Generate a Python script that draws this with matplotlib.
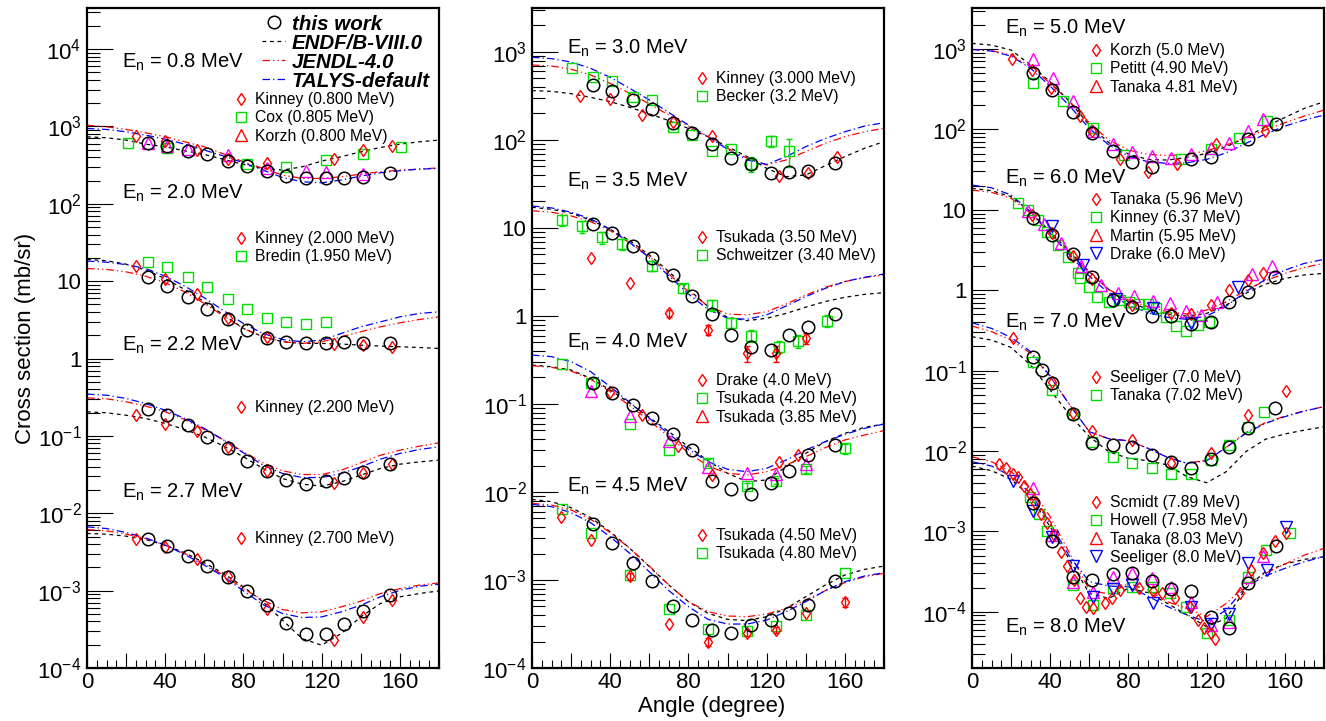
import numpy as np
import matplotlib
matplotlib.use('Agg')
import matplotlib.pyplot as plt
from matplotlib.lines import Line2D
from matplotlib.legend import Legend
from matplotlib.ticker import FixedLocator, MultipleLocator, FuncFormatter, NullFormatter

plt.rcParams['font.family'] = ['Liberation Sans', 'DejaVu Sans']
plt.rcParams['mathtext.fontset'] = 'custom'
plt.rcParams['mathtext.rm'] = 'Liberation Sans'
plt.rcParams['mathtext.it'] = 'Liberation Sans:italic'
plt.rcParams['mathtext.bf'] = 'Liberation Sans:bold'

W, H = 1326, 721

# ---------------- data ----------------
# angles of the evaluated curves
TH_ANG = [0, 10, 20, 30, 40, 50, 60, 70, 80, 90, 100, 110, 120, 130, 140, 150, 160, 170, 180]
# angles of "this work" points
TW_ANG = [31, 41, 51.5, 61.5, 72, 82, 92, 102, 112, 122, 131.5, 141, 155]

# 0.8 MeV
tw_08 = [604, 562, 484, 435, 356, 310, 267, 230, 217, 213, 213, 223, 247]
endf_08 = [736, 714, 667, 591, 546, 485, 435, 375, 323, 287, 273, 301, 357, 406, 471, 535, 591, 634, 667]
jendl_08 = [1040, 990, 915, 829, 736, 634, 546, 439, 350, 287, 235, 213, 213, 224, 242, 260, 273, 281, 292]
talys_08 = [943, 915, 854, 773, 686, 591, 495, 414, 339, 273, 219, 193, 187, 203, 228, 252, 268, 281, 287]
kinney_08_ang = [25, 40, 56.5, 72, 92, 126.5, 141, 156]
kinney_08 = [750, 647, 494, 375, 333, 378, 494, 557]
cox_08_ang = [21, 41, 82, 102, 122, 141, 160.5]
cox_08 = [604, 520, 323, 301, 367, 440, 536]
korzh_08_ang = [31, 41, 51.5, 72, 92, 112, 122, 141]
korzh_08 = [604, 562, 505, 423, 287, 265, 259, 242]

# 2.0 MeV
tw_20 = [11.2, 8.7, 6.29, 4.31, 3.23, 2.33, 1.87, 1.65, 1.57, 1.60, 1.65, 1.57, 1.61]
endf_20 = [19.1, 18.4, 16.6, 13.9, 10.8, 7.81, 5.42, 3.64, 2.45, 1.91, 1.65, 1.57, 1.57, 1.54, 1.49, 1.45, 1.42, 1.39, 1.35]
jendl_20 = [14.6, 14.2, 13.2, 11.6, 9.53, 7.29, 5.15, 3.53, 2.45, 1.91, 1.65, 1.57, 1.65, 1.91, 2.22, 2.57, 2.90, 3.20, 3.46]
talys_20 = [18.2, 17.6, 16.4, 14.6, 11.6, 8.63, 6.10, 4.14, 2.84, 2.11, 1.76, 1.65, 1.73, 2.11, 2.57, 2.98, 3.46, 3.83, 4.02]
kinney_20_ang = [25, 40, 56.5, 72, 92, 126.5, 141, 156]
kinney_20 = [15.8, 10.8, 6.74, 3.30, 1.91, 1.52, 1.49, 1.39]
bredin_20_ang = [31, 41, 51.5, 61.5, 72, 82, 92, 102, 112, 122]
bredin_20 = [17.8, 15.1, 11.4, 8.29, 5.86, 4.31, 3.30, 2.93, 2.78, 2.98]

# 2.2 MeV
tw_22 = [0.226, 0.185, 0.138, 0.0973, 0.0702, 0.0472, 0.0350, 0.0268, 0.0238, 0.0260, 0.0290, 0.0343, 0.0431]
endf_22 = [0.205, 0.199, 0.185, 0.168, 0.145, 0.121, 0.0973, 0.0737, 0.0537, 0.0379, 0.0281, 0.0238, 0.0224, 0.0255, 0.0311, 0.0379, 0.0431, 0.0462, 0.0486]
jendl_22 = [0.310, 0.302, 0.276, 0.243, 0.205, 0.163, 0.121, 0.0881, 0.0622, 0.0449, 0.0354, 0.0317, 0.0317, 0.0361, 0.0449, 0.0563, 0.0654, 0.0737, 0.0814]
talys_22 = [0.347, 0.336, 0.305, 0.262, 0.215, 0.168, 0.125, 0.0881, 0.0604, 0.0419, 0.0327, 0.0290, 0.0290, 0.0327, 0.0398, 0.0501, 0.0593, 0.0668, 0.0723]
kinney_22_ang = [25, 40, 56.5, 72, 92, 126.5, 141, 156]
kinney_22 = [0.185, 0.141, 0.115, 0.0723, 0.0350, 0.0248, 0.0327, 0.0440]

# 2.7 MeV
tw_27 = [0.00462, 0.00379, 0.00282, 0.00207, 0.00148, 0.000993, 0.000648, 0.000383, 0.000279, 0.000274, 0.000376, 0.000548, 0.000873]
endf_27 = [0.00548, 0.00537, 0.00506, 0.00458, 0.00387, 0.00308, 0.00229, 0.00166, 0.00112, 0.000716, 0.000415, 0.000240, 0.000197, 0.000279, 0.000458, 0.000681, 0.000832, 0.000918, 0.000993]
jendl_27 = [0.00616, 0.00593, 0.00537, 0.00472, 0.00387, 0.00302, 0.00220, 0.00158, 0.00106, 0.000753, 0.000570, 0.000516, 0.000532, 0.000617, 0.000731, 0.000918, 0.00106, 0.00118, 0.00126]
talys_27 = [0.00668, 0.00635, 0.00564, 0.00481, 0.00387, 0.00293, 0.00213, 0.00151, 0.000993, 0.000661, 0.000506, 0.000449, 0.000458, 0.000532, 0.000648, 0.000832, 0.00101, 0.00114, 0.00121]
kinney_27_ang = [25, 40, 56.5, 72, 92, 126.5, 141, 156]
kinney_27 = [0.00472, 0.00368, 0.00260, 0.00154, 0.000587, 0.000229, 0.000458, 0.000753]

# 3.0 MeV
tw_30 = [422, 364, 285, 225, 157, 121, 89.3, 63.0, 52.9, 42.5, 42.9, 44.4, 54.3]
endf_30 = [364, 357, 336, 305, 273, 235, 198, 166, 135, 109, 84, 64.7, 47.6, 38.3, 40.0, 51.1, 64.7, 80.4, 95.8]
jendl_30 = [711, 693, 636, 548, 440, 339, 257, 192, 144, 109, 80.4, 62, 52, 59.3, 73.8, 91.6, 109, 124, 136]
talys_30 = [869, 840, 769, 652, 515, 386, 285, 205, 148, 109, 78.4, 59.3, 52.9, 64.7, 84, 104, 124, 144, 157]
kinney_30_ang = [24.5, 40, 56.5, 72, 92, 126.5, 141, 156]
kinney_30 = [319, 292, 192, 162, 111, 39.4, 42.5, 64.7]
becker_30_ang = [20.5, 31, 41, 51.5, 61.5, 72, 82, 92, 102, 112, 122, 131.5]
becker_30 = [664, 515, 472, 311, 285, 139, 114, 75.7, 79.1, 53.4, 97.5, 75.7]
becker_30_err = [0, 0, 0, 0, 0, 0, 0, 0, 0, 10, 14, 27]

# 3.5 MeV
tw_35 = [11.0, 8.69, 6.30, 4.52, 2.92, 1.70, 1.05, 0.608, 0.449, 0.411, 0.608, 0.757, 1.05]
endf_35 = [17.2, 16.3, 14.7, 12.3, 9.66, 7.18, 4.93, 3.19, 2.01, 1.28, 0.966, 0.885, 0.942, 1.07, 1.26, 1.46, 1.63, 1.76, 1.84]
jendl_35 = [15.7, 15.1, 13.7, 11.8, 9.33, 6.81, 4.72, 3.00, 1.89, 1.30, 1.05, 1.03, 1.12, 1.37, 1.73, 2.12, 2.46, 2.73, 2.92]
talys_35 = [17.8, 16.9, 15.1, 12.7, 9.66, 6.81, 4.60, 2.85, 1.78, 1.19, 0.942, 0.917, 1.03, 1.30, 1.66, 2.06, 2.46, 2.75, 3.00]
tsukada_35_ang = [30, 50, 70, 90, 110, 125, 140]
tsukada_35 = [4.60, 2.35, 1.07, 0.693, 0.377, 0.377, 0.557]
tsukada_35_err = [0, 0, 0.1, 0.09, 0.08, 0.08, 0.08]
schweitzer_35_ang = [15.5, 25.5, 36, 46, 61.5, 77, 92, 102, 112, 126.5, 136, 151]
schweitzer_35 = [12.3, 10.4, 7.83, 6.58, 3.73, 2.06, 1.33, 0.840, 0.598, 0.449, 0.525, 0.885]
schweitzer_35_err = [1.8, 1.6, 1.2, 1.0, 0.5, 0.25, 0.2, 0.11, 0.09, 0.07, 0.09, 0.14]

# 4.0 MeV
tw_40 = [0.172, 0.132, 0.0973, 0.0687, 0.0456, 0.0300, 0.0135, 0.0108, 0.00948, 0.0125, 0.0173, 0.0263, 0.0342]
endf_40 = [0.277, 0.265, 0.243, 0.196, 0.144, 0.102, 0.0705, 0.0485, 0.0327, 0.0227, 0.0163, 0.0131, 0.0137, 0.0194, 0.0275, 0.0373, 0.0464, 0.0543, 0.0592]
jendl_40 = [0.272, 0.261, 0.237, 0.191, 0.138, 0.0957, 0.0646, 0.0425, 0.0280, 0.0197, 0.0163, 0.0156, 0.0170, 0.0203, 0.0252, 0.0319, 0.0390, 0.0444, 0.0498]
talys_40 = [0.360, 0.345, 0.303, 0.233, 0.157, 0.104, 0.0687, 0.0456, 0.0305, 0.0221, 0.0181, 0.0170, 0.0186, 0.0231, 0.0300, 0.0373, 0.0452, 0.0528, 0.0592]
drake_40_ang = [40, 56.5, 74.5, 92, 126.5, 136]
drake_40 = [0.138, 0.0750, 0.0336, 0.0156, 0.0217, 0.0263]
tsukada_40a_ang = [15.5, 30, 50, 70, 90, 110, 125, 140, 160]
tsukada_40a = [0.284, 0.175, 0.0587, 0.0300, 0.0215, 0.0117, 0.0133, 0.0181, 0.0313]
tsukada_40a_err = [0, 0, 0, 0, 0.002, 0.001, 0.001, 0.0015, 0.004]
tsukada_40b_ang = [30, 50, 70, 90, 110, 125, 140]
tsukada_40b = [0.142, 0.0736, 0.0383, 0.0194, 0.0166, 0.0160, 0.0206]

# 4.5 MeV
tw_45 = [0.00429, 0.00261, 0.00157, 0.000974, 0.000511, 0.000351, 0.000270, 0.000248, 0.000308, 0.000351, 0.000425, 0.000520, 0.000982]
endf_45 = [0.00824, 0.00776, 0.00663, 0.00511, 0.00354, 0.00229, 0.00142, 0.000877, 0.000567, 0.000418, 0.000357, 0.000345, 0.000383, 0.000476, 0.000646, 0.000877, 0.00114, 0.00132, 0.00144]
jendl_45 = [0.00743, 0.00711, 0.00624, 0.00489, 0.00345, 0.00229, 0.00144, 0.000877, 0.000567, 0.000437, 0.000390, 0.000383, 0.000410, 0.000476, 0.000592, 0.000757, 0.000931, 0.00109, 0.00119]
talys_45 = [0.00724, 0.00681, 0.00582, 0.00448, 0.00310, 0.00201, 0.00124, 0.000757, 0.000498, 0.000357, 0.000316, 0.000316, 0.000351, 0.000437, 0.000567, 0.000757, 0.000957, 0.00111, 0.00121]
tsukada_45a_ang = [15, 30, 50, 70, 90, 110, 125, 140, 160]
tsukada_45a = [0.00524, 0.00284, 0.00111, 0.000313, 0.000199, 0.000252, 0.000270, 0.000418, 0.000557]
tsukada_45a_err = [0, 0, 0.0001, 0, 0.00002, 0.00002, 0.00002, 0, 0.00007]
tsukada_45b_ang = [15.5, 30, 50, 70, 90, 110, 125, 140, 160]
tsukada_45b = [0.00635, 0.00339, 0.00114, 0.000464, 0.000275, 0.000265, 0.000300, 0.000400, 0.00119]

# 5.0 MeV
tw_50_ang = [31, 41, 51.5, 61.5, 72, 82, 92, 112, 122, 141, 155.5]
tw_50 = [507, 309, 166, 91.0, 54.3, 38.9, 33.7, 42.4, 45.7, 75.2, 116]
endf_50 = [1175, 1120, 971, 632, 392, 221, 113, 68.4, 49.4, 42.4, 41.6, 44.9, 50.3, 60.9, 79.6, 108, 141, 183, 221]
jendl_50 = [989, 953, 841, 602, 374, 221, 121, 73.8, 55.4, 48.9, 47.5, 48.9, 54.3, 64.0, 79.6, 98.2, 121, 147, 174]
talys_50 = [989, 944, 817, 574, 346, 195, 103, 64.0, 46.6, 39.6, 37.8, 38.5, 42.4, 51.3, 67.0, 87.5, 110, 131, 151]
korzh_50_ang = [20.5, 30.5, 40.5, 55, 61.5, 75.5, 90, 105, 125, 150]
korzh_50 = [743, 547, 324, 147, 95.4, 42.8, 29.8, 37.1, 65.2, 96.4]
petitt_50_ang = [31, 46.5, 62, 77.5, 107, 122, 136.5, 151]
petitt_50 = [381, 225, 103, 48.0, 43.2, 56.5, 77.3, 128]
tanaka_50_ang = [31, 41.5, 51.5, 62, 72, 82, 92, 102, 112, 122, 131.5, 141, 149]
tanaka_50 = [743, 431, 227, 96.4, 65.8, 52.8, 46.6, 44.4, 49.4, 58.1, 68.4, 95.4, 135]

# 6.0 MeV
tw_60 = [7.98, 4.85, 2.82, 1.44, 0.755, 0.624, 0.477, 0.477, 0.380, 0.406, 0.706, 0.948, 1.47]
endf_60 = [18.5, 17.3, 14.6, 9.47, 5.34, 3.01, 1.70, 1.02, 0.719, 0.578, 0.506, 0.477, 0.515, 0.653, 0.914, 1.19, 1.40, 1.55, 1.62]
jendl_60 = [17.6, 16.5, 13.9, 9.03, 5.09, 2.87, 1.65, 1.02, 0.755, 0.624, 0.541, 0.506, 0.566, 0.719, 1.00, 1.31, 1.62, 1.92, 2.16]
talys_60 = [20.3, 18.8, 15.3, 9.47, 5.09, 2.74, 1.50, 0.914, 0.653, 0.525, 0.459, 0.434, 0.477, 0.635, 0.957, 1.36, 1.78, 2.16, 2.42]
tanaka_60_ang = [30.5, 41, 51.5, 61.5, 82, 102, 112, 122, 131.5, 141, 149]
tanaka_60 = [8.61, 5.09, 2.66, 1.36, 0.653, 0.515, 0.506, 0.653, 1.00, 1.34, 1.62]
kinney_60_ang = [23.5, 28.5, 33.5, 38.5, 44, 49, 54, 55, 60, 64, 70, 75.5, 80.5, 85.5, 90, 94, 99, 104.5, 109.5, 115.5, 121]
kinney_60 = [12.0, 9.93, 7.46, 5.34, 3.65, 2.61, 1.65, 1.40, 1.11, 0.815, 0.719, 0.755, 0.719, 0.673, 0.673, 0.594, 0.459, 0.358, 0.313, 0.369, 0.406]
martin_60_ang = [28.5, 37, 45.5, 55.5, 66, 74.5, 83, 92.5, 101, 109.5, 117, 125.5, 143, 153.5]
martin_60 = [9.75, 6.65, 3.82, 2.00, 1.16, 0.914, 0.846, 0.740, 0.698, 0.556, 0.491, 0.719, 1.59, 2.00]
drake_60_ang = [41, 57, 73.5, 92.5, 112, 136]
drake_60 = [6.28, 2.06, 0.769, 0.594, 0.394, 1.11]

# 7.0 MeV
tw_70_ang = [31, 36, 41, 51.5, 61.5, 72, 82, 92, 102, 112, 122, 131.5, 141, 155]
tw_70 = [0.149, 0.102, 0.0707, 0.0288, 0.0127, 0.0119, 0.0113, 0.00891, 0.00722, 0.00608, 0.00787, 0.0113, 0.0191, 0.0345]
endf_70 = [0.264, 0.240, 0.194, 0.117, 0.0573, 0.0280, 0.0151, 0.00980, 0.00810, 0.00757, 0.00669, 0.00479, 0.00403, 0.00553, 0.00980, 0.0140, 0.0163, 0.0182, 0.0200]
jendl_70 = [0.358, 0.305, 0.240, 0.164, 0.0839, 0.0373, 0.0174, 0.0142, 0.0134, 0.0108, 0.00833, 0.00702, 0.00771, 0.0111, 0.0169, 0.0225, 0.0272, 0.0317, 0.0356]
talys_70 = [0.394, 0.335, 0.259, 0.172, 0.0855, 0.0373, 0.0174, 0.0142, 0.0134, 0.0108, 0.00833, 0.00702, 0.00757, 0.0111, 0.0166, 0.0221, 0.0267, 0.0314, 0.0356]
seeliger_70_ang = [21, 41, 51.5, 61.5, 82, 102, 122, 141, 160.5]
seeliger_70 = [0.252, 0.0728, 0.0294, 0.0179, 0.0137, 0.00715, 0.00934, 0.0280, 0.0562]
tanaka_70_ang = [31, 41, 51.5, 61.5, 72, 82, 92, 102, 112, 122, 131.5, 141, 149.5]
tanaka_70 = [0.129, 0.0573, 0.0288, 0.0130, 0.00833, 0.00702, 0.00608, 0.00512, 0.00517, 0.00771, 0.0119, 0.0197, 0.0302]

# 8.0 MeV
tw_80_ang = [31, 41, 51.5, 61.5, 72, 82, 92, 102, 112, 122, 131.5, 141, 155.5]
tw_80 = [0.00228, 0.000759, 0.000273, 0.000248, 0.000292, 0.000301, 0.000244, 0.000192, 0.000183, 0.0000869, 0.0000622, 0.000226, 0.000664]
endf_80 = [0.00650, 0.00569, 0.00444, 0.00270, 0.00114, 0.000440, 0.000169, 0.000147, 0.000196, 0.000173, 0.000127, 0.0000912, 0.0000652, 0.0000828, 0.000196, 0.000315, 0.000393, 0.000449, 0.000484]
jendl_80 = [0.00849, 0.00736, 0.00553, 0.00343, 0.00152, 0.000533, 0.000187, 0.000166, 0.000226, 0.000187, 0.000133, 0.000110, 0.0000869, 0.000127, 0.000215, 0.000301, 0.000393, 0.000508, 0.000615]
talys_80 = [0.00736, 0.00650, 0.00488, 0.00297, 0.00126, 0.000484, 0.000237, 0.000209, 0.000205, 0.000157, 0.000116, 0.0000912, 0.0000753, 0.000105, 0.000205, 0.000279, 0.000347, 0.000420, 0.000484]
scmidt_80_ang = [14, 17.5, 21, 23.5, 26.5, 29.5, 32, 35.5, 38.5, 42, 45.5, 48.5, 52, 55, 58.5, 62, 68, 71.5, 75.5,
                 85.5, 92.5, 97, 104, 111.5, 115.5, 118.5, 122, 124.5, 137, 142.5, 149, 155, 160.5]
scmidt_80 = [0.00682, 0.00608, 0.00517, 0.00470, 0.00366, 0.00292, 0.00223, 0.00167, 0.00126, 0.000901, 0.000548,
             0.000371, 0.000248, 0.000147, 0.000116, 0.000110, 0.000127, 0.000150, 0.000187, 0.000196, 0.000183,
             0.000169, 0.000147, 0.000116, 0.0000789, 0.0000622, 0.0000539, 0.0000458, 0.000169, 0.000331,
             0.000543, 0.000759, 0.000963]
howell_80_ang = [29.5, 34.5, 38.5, 51.5, 62, 72, 82, 92.5, 101, 109.5, 120, 131.5, 141, 150.5, 162.5]
howell_80 = [0.00270, 0.00167, 0.00102, 0.000215, 0.000121, 0.000196, 0.000205, 0.000201, 0.000169, 0.000116,
             0.0000539, 0.0000789, 0.000268, 0.000586, 0.000963]
tanaka_80_ang = [31, 41, 51.5, 62, 72, 82, 92, 102, 112, 122, 131.5, 141, 149]
tanaka_80 = [0.00343, 0.000901, 0.000237, 0.000175, 0.000273, 0.000301, 0.000261, 0.000205, 0.000133, 0.0000684,
             0.0000753, 0.000273, 0.000494]
seeliger_80_ang = [21, 31, 41, 51.5, 62, 72, 82, 92.5, 112, 122, 131.5, 141, 151, 160.5]
seeliger_80 = [0.00427, 0.00181, 0.000859, 0.000371, 0.000154, 0.000190, 0.000215, 0.000127, 0.000116, 0.0000705,
               0.0000938, 0.000400, 0.000331, 0.00114]

# ---------------- styles ----------------
GREEN = '#00dd00'
MARK = {
    'dia': dict(marker='d', color='red', ms=6.2),
    'sq': dict(marker='s', color=GREEN, ms=6.8),
    'tri': dict(marker='^', color='magenta', ms=8.2),
    'dtri': dict(marker='v', color='blue', ms=8.2),
}
# ROOT draws the triangle legend key in red
KEY_COLOR = {'dia': 'red', 'sq': GREEN, 'tri': 'red', 'dtri': 'blue'}

ENDF_LS = (0, (3, 3))
JENDL_LS = (0, (6, 2.5, 1, 2.5, 1, 2.5))
TALYS_LS = (0, (6, 2.5, 1, 2.5))


def draw_theory(ax, endf, jendl, talys):
    ax.plot(TH_ANG, endf, color='black', lw=0.9, ls=ENDF_LS)
    ax.plot(TH_ANG, jendl, color='red', lw=0.9, ls=JENDL_LS)
    ax.plot(TH_ANG, talys, color='blue', lw=0.9, ls=TALYS_LS)


def draw_exp(ax, ang, val, kind, err=None):
    st = MARK[kind]
    if err is not None:
        a = np.array(ang); v = np.array(val); e = np.array(err)
        m = e > 0
        ax.errorbar(a[m], v[m], yerr=e[m], fmt='none', ecolor=st['color'], elinewidth=1, capsize=2.5, capthick=1)
    ax.plot(ang, val, ls='none', marker=st['marker'], ms=st['ms'], mfc='none', mec=st['color'], mew=1)


def draw_tw(ax, ang, val):
    ax.plot(ang, val, ls='none', marker='o', ms=9, mfc='none', mec='black', mew=1.1)


def add_key(fig, ax, entries, mx, my, fs=11.3):
    fs_px = fs * 100 / 72
    hl = 1.0
    handles = [Line2D([], [], ls='none', marker=MARK[k]['marker'], ms=MARK[k]['ms'], mfc='none',
                      mec=KEY_COLOR[k], mew=1) for k, _ in entries]
    labels = [t for _, t in entries]
    leg = Legend(ax, handles, labels, loc='upper left',
                 bbox_to_anchor=((mx - hl * fs_px / 2) / W, 1 - (my - 0.36 * fs_px) / H),
                 bbox_transform=fig.transFigure, frameon=False, borderpad=0, borderaxespad=0,
                 handlelength=hl, handletextpad=0.39, labelspacing=0.2, fontsize=fs)
    ax.add_artist(leg)


def en_label(fig, x_px, y_px, txt):
    fig.text(x_px / W, 1 - y_px / H, r'E$_{\mathregular{n}}$ = ' + txt, fontsize=14.5, va='center', ha='left')


def fmt_y(v, pos):
    e = int(round(np.log10(v)))
    if e == 0:
        return '1'
    if e == 1:
        return '10'
    return r'$\mathregular{10^{%d}}$' % e


def fmt_x(v, pos):
    iv = int(round(v))
    return str(iv) if iv % 40 == 0 else ''


def setup_axes(ax, ylim):
    ax.set_yscale('log')
    ax.set_xlim(0, 180)
    ax.set_ylim(*ylim)
    lo = int(np.floor(np.log10(ylim[0])))
    hi = int(np.ceil(np.log10(ylim[1])))
    majors = [10.0 ** e for e in range(lo, hi + 1) if ylim[0] * 0.999 <= 10.0 ** e <= ylim[1]]
    minors = [m * 10.0 ** e for e in range(lo, hi + 1) for m in range(2, 10)
              if ylim[0] <= m * 10.0 ** e <= ylim[1]]
    ax.yaxis.set_major_locator(FixedLocator(majors))
    ax.yaxis.set_minor_locator(FixedLocator(minors))
    ax.yaxis.set_major_formatter(FuncFormatter(fmt_y))
    ax.yaxis.set_minor_formatter(NullFormatter())
    ax.xaxis.set_major_locator(MultipleLocator(20))
    ax.xaxis.set_minor_locator(MultipleLocator(5))
    ax.xaxis.set_major_formatter(FuncFormatter(fmt_x))
    ax.tick_params(axis='y', which='major', direction='in', length=18.7, width=0.8, labelsize=16, pad=4, right=False)
    ax.tick_params(axis='y', which='minor', direction='in', length=9.4, width=0.8, right=False)
    ax.tick_params(axis='x', which='major', direction='in', length=10.8, width=0.8, labelsize=16, pad=3, top=False)
    ax.tick_params(axis='x', which='minor', direction='in', length=5.5, width=0.8, top=False)
    for s in ax.spines.values():
        s.set_linewidth(1.6)


fig = plt.figure(figsize=(W / 100, H / 100), dpi=100)
bot = (H - 668) / H
hgt = 660 / H
wid = 352 / W
ax1 = fig.add_axes([87 / W, bot, wid, hgt])
ax2 = fig.add_axes([532 / W, bot, wid, hgt])
ax3 = fig.add_axes([972 / W, bot, wid, hgt])

setup_axes(ax1, (1e-4, 3.4e4))
setup_axes(ax2, (1e-4, 3.16e3))
setup_axes(ax3, (2.0e-5, 3.24e3))

# ---- panel 1 ----
for e, j, t in [(endf_08, jendl_08, talys_08), (endf_20, jendl_20, talys_20),
                (endf_22, jendl_22, talys_22), (endf_27, jendl_27, talys_27)]:
    draw_theory(ax1, e, j, t)
draw_exp(ax1, cox_08_ang, cox_08, 'sq')
draw_exp(ax1, korzh_08_ang, korzh_08, 'tri')
draw_exp(ax1, kinney_08_ang, kinney_08, 'dia')
draw_exp(ax1, bredin_20_ang, bredin_20, 'sq')
draw_exp(ax1, kinney_20_ang, kinney_20, 'dia')
draw_exp(ax1, kinney_22_ang, kinney_22, 'dia')
draw_exp(ax1, kinney_27_ang, kinney_27, 'dia')
for v in [tw_08, tw_20, tw_22, tw_27]:
    draw_tw(ax1, TW_ANG, v)

# ---- panel 2 ----
for e, j, t in [(endf_30, jendl_30, talys_30), (endf_35, jendl_35, talys_35),
                (endf_40, jendl_40, talys_40), (endf_45, jendl_45, talys_45)]:
    draw_theory(ax2, e, j, t)
draw_exp(ax2, becker_30_ang, becker_30, 'sq', becker_30_err)
draw_exp(ax2, kinney_30_ang, kinney_30, 'dia')
draw_exp(ax2, schweitzer_35_ang, schweitzer_35, 'sq', schweitzer_35_err)
draw_exp(ax2, tsukada_35_ang, tsukada_35, 'dia', tsukada_35_err)
draw_exp(ax2, tsukada_40a_ang, tsukada_40a, 'sq', tsukada_40a_err)
draw_exp(ax2, tsukada_40b_ang, tsukada_40b, 'tri')
draw_exp(ax2, drake_40_ang, drake_40, 'dia')
draw_exp(ax2, tsukada_45b_ang, tsukada_45b, 'sq')
draw_exp(ax2, tsukada_45a_ang, tsukada_45a, 'dia', tsukada_45a_err)
for v in [tw_30, tw_35, tw_40, tw_45]:
    draw_tw(ax2, TW_ANG, v)

# ---- panel 3 ----
for e, j, t in [(endf_50, jendl_50, talys_50), (endf_60, jendl_60, talys_60),
                (endf_70, jendl_70, talys_70), (endf_80, jendl_80, talys_80)]:
    draw_theory(ax3, e, j, t)
draw_exp(ax3, petitt_50_ang, petitt_50, 'sq')
draw_exp(ax3, tanaka_50_ang, tanaka_50, 'tri')
draw_exp(ax3, korzh_50_ang, korzh_50, 'dia')
draw_exp(ax3, kinney_60_ang, kinney_60, 'sq')
draw_exp(ax3, martin_60_ang, martin_60, 'tri')
draw_exp(ax3, drake_60_ang, drake_60, 'dtri')
draw_exp(ax3, tanaka_60_ang, tanaka_60, 'dia')
draw_exp(ax3, tanaka_70_ang, tanaka_70, 'sq')
draw_exp(ax3, seeliger_70_ang, seeliger_70, 'dia')
draw_exp(ax3, howell_80_ang, howell_80, 'sq')
draw_exp(ax3, tanaka_80_ang, tanaka_80, 'tri')
draw_exp(ax3, seeliger_80_ang, seeliger_80, 'dtri')
draw_exp(ax3, scmidt_80_ang, scmidt_80, 'dia')
draw_tw(ax3, tw_50_ang, tw_50)
draw_tw(ax3, TW_ANG, tw_60)
draw_tw(ax3, tw_70_ang, tw_70)
draw_tw(ax3, tw_80_ang, tw_80)

# ---- energy labels ----
for x, y, t in [(122, 62, '0.8 MeV'), (122, 193, '2.0 MeV'), (122, 345, '2.2 MeV'), (122, 492, '2.7 MeV'),
                (567, 48, '3.0 MeV'), (567, 181, '3.5 MeV'), (567, 342, '4.0 MeV'), (567, 486, '4.5 MeV'),
                (1005, 28, '5.0 MeV'), (1005, 178, '6.0 MeV'), (1005, 322, '7.0 MeV'), (1005, 627, '8.0 MeV')]:
    en_label(fig, x, y, t)

# ---- per-energy keys ----
add_key(fig, ax1, [('dia', 'Kinney (0.800 MeV)'), ('sq', 'Cox (0.805 MeV)'), ('tri', 'Korzh (0.800 MeV)')], 241, 98)
add_key(fig, ax1, [('dia', 'Kinney (2.000 MeV)'), ('sq', 'Bredin (1.950 MeV)')], 241, 237)
add_key(fig, ax1, [('dia', 'Kinney (2.200 MeV)')], 241, 406)
add_key(fig, ax1, [('dia', 'Kinney (2.700 MeV)')], 241, 537)
add_key(fig, ax2, [('dia', 'Kinney (3.000 MeV)'), ('sq', 'Becker (3.2 MeV)')], 702, 77)
add_key(fig, ax2, [('dia', 'Tsukada (3.50 MeV)'), ('sq', 'Schweitzer (3.40 MeV)')], 702, 236)
add_key(fig, ax2, [('dia', 'Drake (4.0 MeV)'), ('sq', 'Tsukada (4.20 MeV)'), ('tri', 'Tsukada (3.85 MeV)')], 702, 379)
add_key(fig, ax2, [('dia', 'Tsukada (4.50 MeV)'), ('sq', 'Tsukada (4.80 MeV)')], 702, 534)
add_key(fig, ax3, [('dia', 'Korzh (5.0 MeV)'), ('sq', 'Petitt (4.90 MeV)'), ('tri', 'Tanaka 4.81 MeV)')], 1096, 49)
add_key(fig, ax3, [('dia', 'Tanaka (5.96 MeV)'), ('sq', 'Kinney (6.37 MeV)'), ('tri', 'Martin (5.95 MeV)'),
                   ('dtri', 'Drake (6.0 MeV)')], 1096, 198)
add_key(fig, ax3, [('dia', 'Seeliger (7.0 MeV)'), ('sq', 'Tanaka (7.02 MeV)')], 1096, 376)
add_key(fig, ax3, [('dia', 'Scmidt (7.89 MeV)'), ('sq', 'Howell (7.958 MeV)'), ('tri', 'Tanaka (8.03 MeV)'),
                   ('dtri', 'Seeliger (8.0 MeV)')], 1096, 501)

# ---- main key ----
fs_main = 14.8
fs_px = fs_main * 100 / 72
main_handles = [
    Line2D([], [], ls='none', marker='o', ms=9, mfc='none', mec='black', mew=1.1),
    Line2D([], [], color='black', lw=0.9, ls=ENDF_LS),
    Line2D([], [], color='red', lw=0.9, ls=JENDL_LS),
    Line2D([], [], color='blue', lw=0.9, ls=TALYS_LS),
]
main_labels = ['this work', 'ENDF/B-VIII.0', 'JENDL-4.0', 'TALYS-default']
hl_main = 23 / fs_px
leg = Legend(ax1, main_handles, main_labels, loc='upper left',
             bbox_to_anchor=(262 / W, 1 - (22 - 0.36 * fs_px) / H), bbox_transform=fig.transFigure,
             frameon=False, borderpad=0, borderaxespad=0, handlelength=hl_main, handletextpad=7 / fs_px,
             labelspacing=0.0, prop=dict(family='Liberation Sans', weight='bold', style='italic', size=fs_main))
ax1.add_artist(leg)

ax1.set_ylabel('Cross section (mb/sr)', fontsize=16, va='center')
ax1.yaxis.set_label_coords(-0.175, 0.5)
ax2.set_xlabel('Angle (degree)', fontsize=16, va='center')
ax2.xaxis.set_label_coords(0.51, -0.058)

fig.savefig('out.png', dpi=100)
